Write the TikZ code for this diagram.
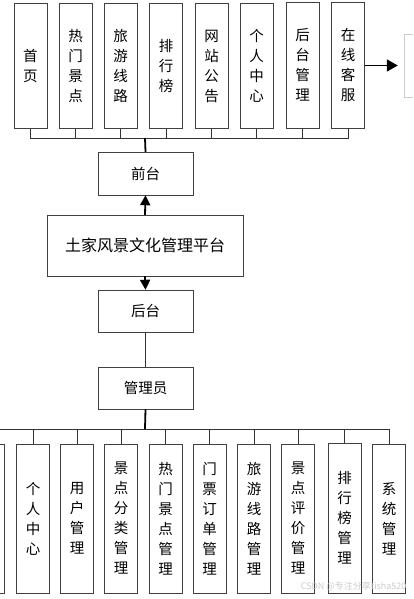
\documentclass[tikz,border=0pt]{standalone}
\usepackage{fontspec}
\newfontfamily\cjk{Noto Sans CJK SC}
\usetikzlibrary{arrows.meta}

\tikzset{
  vbox/.style={draw=black!75, fill=white, minimum width=33pt, inner sep=0pt,
    align=center, font=\cjk\fontsize{14.5}{20}\selectfont},
  hbox/.style={draw=black!75, fill=white, inner sep=0pt,
    font=\cjk\fontsize{14.5}{20}\selectfont},
  bus/.style={draw=black!80, line width=0.9pt},
  trunk/.style={draw=black, line width=1.8pt},
  tip/.style={-{Triangle[length=10pt,width=10pt]}}
}

\begin{document}
\begin{tikzpicture}[x=1pt,y=-1pt]
\useasboundingbox (0,0) rectangle (413,599);
\clip (0,0) rectangle (413,599);

% front end
\node [vbox, minimum height=125pt] (shouye) at (30.5,66) {首\\页};
\node [vbox, minimum height=125pt] (rmjd) at (75.5,66) {热\\门\\景\\点};
\node [vbox, minimum height=125pt] (lylx) at (120.5,66) {旅\\游\\线\\路};
\node [vbox, minimum height=125pt] (phb) at (166,66) {排\\行\\榜};
\node [vbox, minimum height=125pt] (wzgg) at (211.5,66) {网\\站\\公\\告};
\node [vbox, minimum height=125pt] (grzx) at (256.5,66) {个\\人\\中\\心};
\node [vbox, minimum height=126pt] (htgl) at (302.5,65) {后\\台\\管\\理};
\node [vbox, minimum height=126pt] (zxkf) at (348,65) {在\\线\\客\\服};
\node [draw=black!20, minimum width=40pt, minimum height=63pt] (rcut) at (424,65.5) {};

\node [hbox, minimum width=95pt, minimum height=43pt] (qiantai) at (145.5,173.5) {前台};
\node [hbox, minimum width=196pt, minimum height=61pt, font=\cjk\fontsize{16}{20}\selectfont] (pingtai) at (145,245.5) {土家风景文化管理平台};
\node [hbox, minimum width=95pt, minimum height=42pt] (houtai) at (145.5,311) {后台};
\node [hbox, minimum width=95pt, minimum height=42pt] (gly) at (145.5,388) {管理员};

% back end
\node [vbox, minimum height=149pt] (lcut) at (-12,518.5) {};
\node [vbox, minimum height=149pt] (grzxM) at (33,518.5) {个\\人\\中\\心};
\node [vbox, minimum height=149pt] (yhgl) at (77,518.5) {用\\户\\管\\理};
\node [vbox, minimum height=149pt] (jdfl) at (121,518.5) {景\\点\\分\\类\\管\\理};
\node [vbox, minimum height=149pt] (rmjdgl) at (165.5,518.5) {热\\门\\景\\点\\管\\理};
\node [vbox, minimum height=149pt] (mpdd) at (209.5,518.5) {门\\票\\订\\单\\管\\理};
\node [vbox, minimum height=149pt] (lylxgl) at (254,518.5) {旅\\游\\线\\路\\管\\理};
\node [vbox, minimum height=149pt] (jdpj) at (298,518.5) {景\\点\\评\\价\\管\\理};
\node [vbox, minimum height=150pt] (phbgl) at (344.5,518) {排\\行\\榜\\管\\理};
\node [vbox, minimum height=149pt] (xtgl) at (389,518.5) {系\\统\\管\\理};

% top bus
\coordinate (topbus) at (145,138);
\draw [bus] (shouye.south) |- (zxkf.south |- topbus) -- (zxkf.south);
\draw [bus] (rmjd.south) -- (rmjd.south |- topbus);
\draw [bus] (lylx.south) -- (lylx.south |- topbus);
\draw [bus] (phb.south) -- (phb.south |- topbus);
\draw [bus] (wzgg.south) -- (wzgg.south |- topbus);
\draw [bus] (grzx.south) -- (grzx.south |- topbus);
\draw [bus] (htgl.south) -- (htgl.south |- topbus);
\draw [trunk] (topbus) -- (qiantai.north);

\draw [trunk, -{Triangle[length=11pt,width=12pt]}, shorten >=6pt] (zxkf.east |- rcut.west) -- (rcut.west);
\draw [trunk, tip] (pingtai.north) -- (qiantai.south);
\draw [trunk, tip] (pingtai.south) -- (houtai.north);
\draw [bus] (houtai.south) -- (gly.north);

% bottom bus
\coordinate (lowbus) at (145,429);
\draw [trunk] (gly.south) -- (lowbus);
\draw [bus] (lcut.north) |- (xtgl.north |- lowbus) -- (xtgl.north);
\draw [bus] (grzxM.north) -- (grzxM.north |- lowbus);
\draw [bus] (yhgl.north) -- (yhgl.north |- lowbus);
\draw [bus] (jdfl.north) -- (jdfl.north |- lowbus);
\draw [bus] (rmjdgl.north) -- (rmjdgl.north |- lowbus);
\draw [bus] (mpdd.north) -- (mpdd.north |- lowbus);
\draw [bus] (lylxgl.north) -- (lylxgl.north |- lowbus);
\draw [bus] (jdpj.north) -- (jdpj.north |- lowbus);
\draw [bus] (phbgl.north) -- (phbgl.north |- lowbus);

\node [text=black!20, font=\cjk\fontsize{9}{10}\selectfont, anchor=east] (mark) at (410,586) {CSDN @专注分享tisha520};
\end{tikzpicture}
\end{document}
